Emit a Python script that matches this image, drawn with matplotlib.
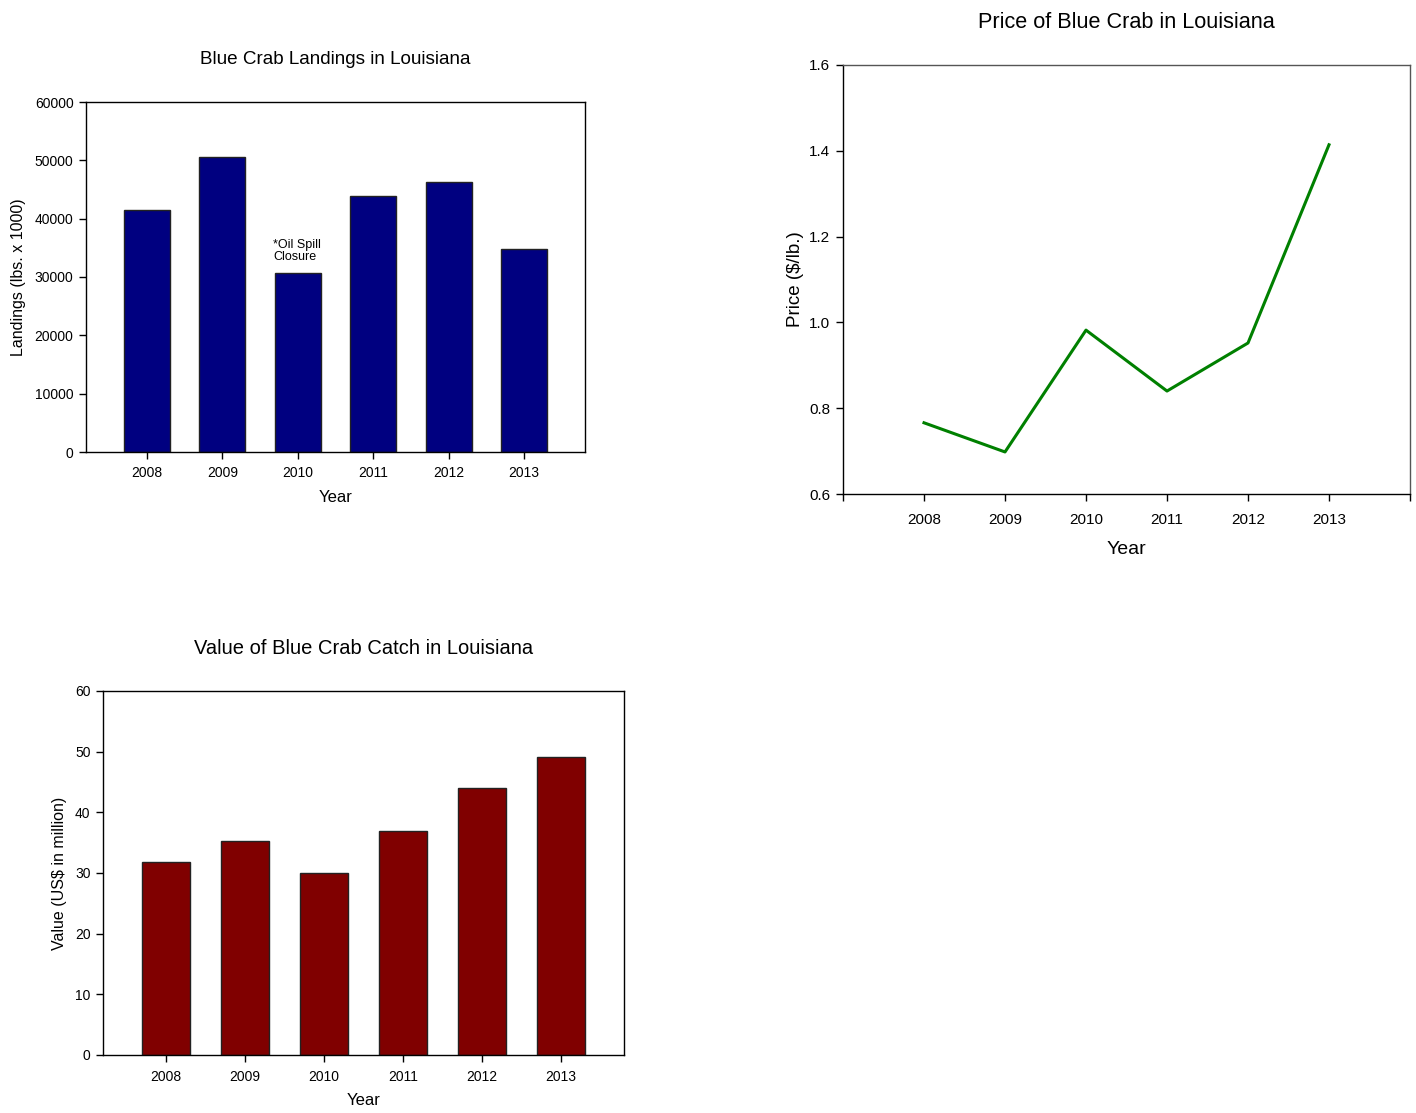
import matplotlib
matplotlib.use('Agg')
import matplotlib.pyplot as plt

plt.rcParams['font.family'] = ['Liberation Sans', 'DejaVu Sans']

years = [2008, 2009, 2010, 2011, 2012, 2013]
landings = [41500, 50600, 30700, 43900, 46300, 34800]
price = [0.766, 0.698, 0.982, 0.840, 0.952, 1.414]
value = [31.8, 35.3, 30.0, 36.9, 44.0, 49.1]

W, H = 1416, 1113
fig = plt.figure(figsize=(W / 100, H / 100), dpi=100)


def box(l, t, r, b):
    # pixel box -> figure fraction
    return [l / W, 1 - b / H, (r - l) / W, (b - t) / H]


def style(ax, fs):
    for s in ax.spines.values():
        s.set_linewidth(1.0)
        s.set_color('black')
    ax.tick_params(direction='out', length=5, width=1, labelsize=fs, pad=4)


# Landings
ax1 = fig.add_axes(box(86, 102, 585, 452))
ax1.bar(years, landings, width=0.61, color='#000080', edgecolor='#222222', linewidth=1)
ax1.set_xlim(2007.19, 2013.81)
ax1.set_ylim(0, 60000)
ax1.set_xticks(years)
ax1.set_yticks(range(0, 60001, 10000))
style(ax1, 10)
ax1.tick_params(axis='x', pad=5)
ax1.set_title('Blue Crab Landings in Louisiana', fontsize=13.6, pad=27)
ax1.set_xlabel('Year', fontsize=12, labelpad=7)
ax1.set_ylabel('Landings (lbs. x 1000)', fontsize=11.5, labelpad=6)
ax1.text(2010 - 0.33, landings[2] + 1700, '*Oil Spill\nClosure', fontsize=9,
         ha='left', va='bottom', linespacing=1.0)

# Price
ax2 = fig.add_axes(box(843, 65, 1410, 494))
ax2.plot(years, price, color='#008000', linewidth=2.2)
ax2.set_xlim(2007, 2014)
ax2.set_ylim(0.6, 1.6)
ax2.set_xticks([2007] + years + [2014])
ax2.set_xticklabels([''] + [str(y) for y in years] + [''])
ax2.set_yticks([0.6, 0.8, 1.0, 1.2, 1.4, 1.6])
ax2.set_yticklabels(['0.6', '0.8', '1.0', '1.2', '1.4', '1.6'])
style(ax2, 11)
ax2.spines['top'].set_color('#555555')
ax2.spines['right'].set_color('#555555')
ax2.tick_params(axis='x', pad=9)
ax2.set_title('Price of Blue Crab in Louisiana', fontsize=15.6, pad=27)
ax2.set_xlabel('Year', fontsize=14, labelpad=10)
ax2.set_ylabel('Price ($/lb.)', fontsize=13.5, labelpad=4)

# Value
ax3 = fig.add_axes(box(103, 691, 624, 1055))
ax3.bar(years, value, width=0.6, color='#800000', edgecolor='#222222', linewidth=1)
ax3.set_xlim(2007.2, 2013.8)
ax3.set_ylim(0, 60)
ax3.set_xticks(years)
ax3.set_yticks(range(0, 61, 10))
style(ax3, 10)
ax3.tick_params(axis='x', pad=6)
ax3.set_title('Value of Blue Crab Catch in Louisiana', fontsize=14.5, pad=27)
ax3.set_xlabel('Year', fontsize=12, labelpad=6)
ax3.set_ylabel('Value (US$ in million)', fontsize=11.5, labelpad=6)

fig.savefig('out.png', dpi=100)
